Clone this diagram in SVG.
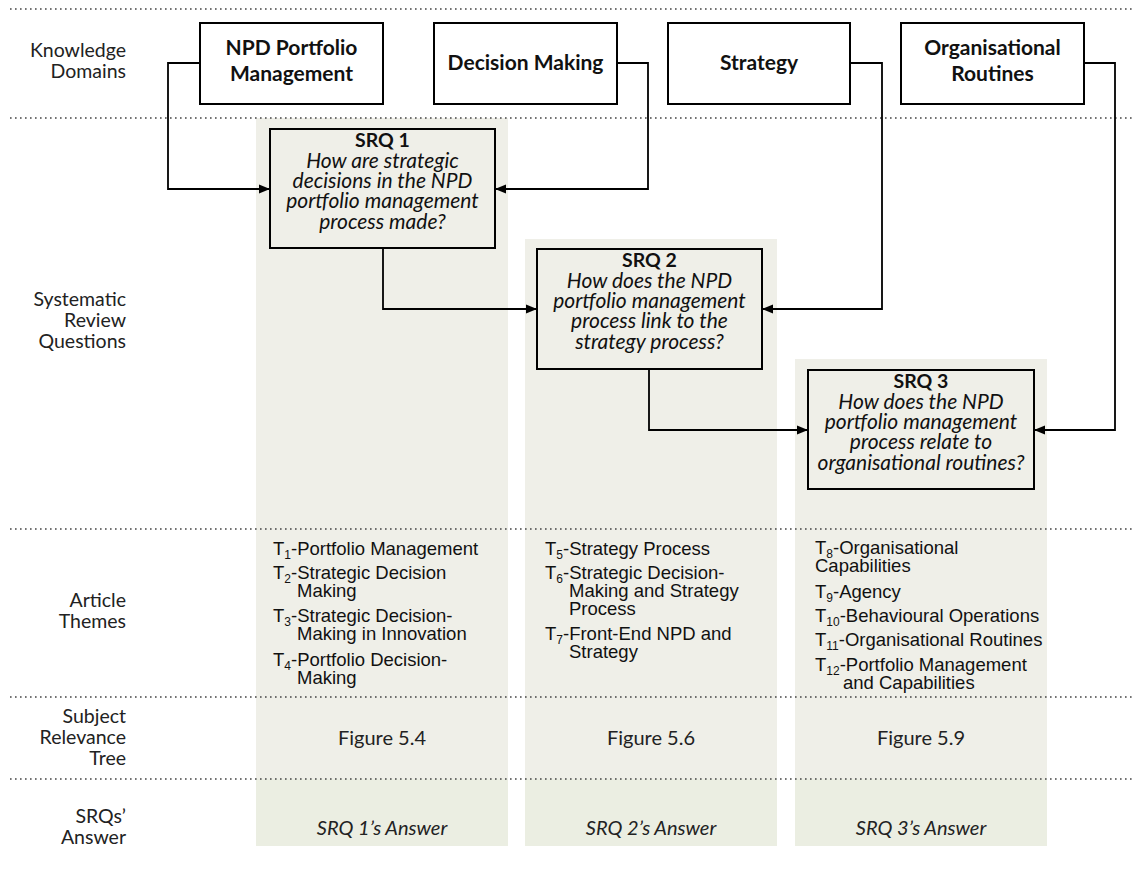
<svg xmlns="http://www.w3.org/2000/svg" width="1136" height="874" viewBox="0 0 1136 874">
  <style>
    .col { fill: #efefe8; }
    .ans { fill: #ebeee2; }
    .sep { stroke: #444; stroke-width: 1.6; stroke-dasharray: 1.6 3.4; fill: none; }
    .dom { fill: #fff; stroke: #000; stroke-width: 2; }
    .srq { fill: #efefe8; stroke: #000; stroke-width: 2; }
    .lbl { font-family: Lato, "Liberation Sans", sans-serif; font-size: 19.5px; fill: #222; text-anchor: end; }
    .domt { font-family: Lato, "Liberation Sans", sans-serif; font-size: 21px; font-weight: bold; fill: #111; text-anchor: middle; }
    .srqh { font-family: Lato, "Liberation Sans", sans-serif; font-size: 19.5px; font-weight: bold; fill: #111; text-anchor: middle; }
    .srqq { font-family: Lato, "Liberation Sans", sans-serif; font-size: 21px; font-style: italic; fill: #111; text-anchor: middle; }
    .thm { font-family: "Liberation Sans", Arial, sans-serif; font-size: 18.5px; fill: #111; }
    .sub { font-size: 12px; }
    .mid { font-family: Lato, "Liberation Sans", sans-serif; font-size: 20px; fill: #222; text-anchor: middle; }
    .midi { font-family: Lato, "Liberation Sans", sans-serif; font-size: 20px; font-style: italic; fill: #222; text-anchor: middle; }
    .conn { fill: none; stroke: #000; stroke-width: 1.8; marker-end: url(#arrow); }
  </style>
  <defs>
    <marker id="arrow" markerUnits="userSpaceOnUse" markerWidth="12" markerHeight="12" refX="11" refY="6" orient="auto">
      <path d="M0,1.5 L11,6 L0,10.5 z" fill="#000"/>
    </marker>
  </defs>

  <!-- column backgrounds -->
  <g id="columns">
    <rect class="col" x="256" y="118" width="252" height="661"/>
    <rect class="ans" x="256" y="779" width="252" height="67"/>
    <rect class="col" x="525" y="239" width="252" height="540"/>
    <rect class="ans" x="525" y="779" width="252" height="67"/>
    <rect class="col" x="795" y="359" width="252" height="420"/>
    <rect class="ans" x="795" y="779" width="252" height="67"/>
  </g>

  <!-- row separators -->
  <g id="separators">
    <line class="sep" x1="10" y1="9" x2="1132" y2="9"/>
    <line class="sep" x1="10" y1="118" x2="1132" y2="118"/>
    <line class="sep" x1="10" y1="529" x2="1132" y2="529"/>
    <line class="sep" x1="10" y1="697" x2="1132" y2="697"/>
    <line class="sep" x1="10" y1="779" x2="1132" y2="779"/>
  </g>

  <!-- row labels -->
  <g id="row-labels">
    <text class="lbl" x="126" y="57">Knowledge</text>
    <text class="lbl" x="126" y="78">Domains</text>
    <text class="lbl" x="126" y="306">Systematic</text>
    <text class="lbl" x="126" y="327">Review</text>
    <text class="lbl" x="126" y="348">Questions</text>
    <text class="lbl" x="126" y="607">Article</text>
    <text class="lbl" x="126" y="628">Themes</text>
    <text class="lbl" x="126" y="723">Subject</text>
    <text class="lbl" x="126" y="744">Relevance</text>
    <text class="lbl" x="126" y="765">Tree</text>
    <text class="lbl" x="126" y="823">SRQs’</text>
    <text class="lbl" x="126" y="844">Answer</text>
  </g>

  <!-- knowledge domains -->
  <g id="domain-npd">
    <rect class="dom" x="200" y="23" width="183" height="81"/>
    <text class="domt" x="291.5" y="55">NPD Portfolio</text>
    <text class="domt" x="291.5" y="81">Management</text>
  </g>
  <g id="domain-decision">
    <rect class="dom" x="434" y="23" width="183" height="81"/>
    <text class="domt" x="525.5" y="70">Decision Making</text>
  </g>
  <g id="domain-strategy">
    <rect class="dom" x="668" y="23" width="182" height="81"/>
    <text class="domt" x="759" y="70">Strategy</text>
  </g>
  <g id="domain-routines">
    <rect class="dom" x="901" y="23" width="183" height="81"/>
    <text class="domt" x="992.5" y="55">Organisational</text>
    <text class="domt" x="992.5" y="81">Routines</text>
  </g>

  <!-- systematic review questions -->
  <g id="srq1">
    <rect class="srq" x="270" y="129" width="225" height="119"/>
    <text class="srqh" x="382.5" y="147">SRQ 1</text>
    <text class="srqq" x="382.5" y="168">How are strategic</text>
    <text class="srqq" x="382.5" y="188">decisions in the NPD</text>
    <text class="srqq" x="382.5" y="208">portfolio management</text>
    <text class="srqq" x="382.5" y="229">process made?</text>
  </g>
  <g id="srq2">
    <rect class="srq" x="537" y="249" width="225" height="120"/>
    <text class="srqh" x="649.5" y="267">SRQ 2</text>
    <text class="srqq" x="649.5" y="288">How does the NPD</text>
    <text class="srqq" x="649.5" y="308">portfolio management</text>
    <text class="srqq" x="649.5" y="328">process link to the</text>
    <text class="srqq" x="649.5" y="349">strategy process?</text>
  </g>
  <g id="srq3">
    <rect class="srq" x="808" y="370" width="226" height="119"/>
    <text class="srqh" x="921" y="388">SRQ 3</text>
    <text class="srqq" x="921" y="409">How does the NPD</text>
    <text class="srqq" x="921" y="429">portfolio management</text>
    <text class="srqq" x="921" y="449">process relate to</text>
    <text class="srqq" x="921" y="470">organisational routines?</text>
  </g>

  <!-- article themes -->
  <g id="themes-srq1" class="thm">
    <text x="273" y="555">T<tspan class="sub" dy="4">1</tspan><tspan dy="-4">-Portfolio Management</tspan></text>
    <text x="273" y="579">T<tspan class="sub" dy="4">2</tspan><tspan dy="-4">-Strategic Decision</tspan></text>
    <text x="297" y="597">Making</text>
    <text x="273" y="622">T<tspan class="sub" dy="4">3</tspan><tspan dy="-4">-Strategic Decision-</tspan></text>
    <text x="297" y="640">Making in Innovation</text>
    <text x="273" y="666">T<tspan class="sub" dy="4">4</tspan><tspan dy="-4">-Portfolio Decision-</tspan></text>
    <text x="297" y="684">Making</text>
  </g>
  <g id="themes-srq2" class="thm">
    <text x="545" y="555">T<tspan class="sub" dy="4">5</tspan><tspan dy="-4">-Strategy Process</tspan></text>
    <text x="545" y="579">T<tspan class="sub" dy="4">6</tspan><tspan dy="-4">-Strategic Decision-</tspan></text>
    <text x="569" y="597">Making and Strategy</text>
    <text x="569" y="615">Process</text>
    <text x="545" y="640">T<tspan class="sub" dy="4">7</tspan><tspan dy="-4">-Front-End NPD and</tspan></text>
    <text x="569" y="658">Strategy</text>
  </g>
  <g id="themes-srq3" class="thm">
    <text x="815" y="554">T<tspan class="sub" dy="4">8</tspan><tspan dy="-4">-Organisational</tspan></text>
    <text x="815" y="572">Capabilities</text>
    <text x="815" y="598">T<tspan class="sub" dy="4">9</tspan><tspan dy="-4">-Agency</tspan></text>
    <text x="815" y="622">T<tspan class="sub" dy="4">10</tspan><tspan dy="-4">-Behavioural Operations</tspan></text>
    <text x="815" y="646">T<tspan class="sub" dy="4">11</tspan><tspan dy="-4">-Organisational Routines</tspan></text>
    <text x="815" y="671">T<tspan class="sub" dy="4">12</tspan><tspan dy="-4">-Portfolio Management</tspan></text>
    <text x="843" y="689">and Capabilities</text>
  </g>

  <!-- subject relevance trees -->
  <g id="trees">
    <text class="mid" x="382" y="745">Figure 5.4</text>
    <text class="mid" x="651" y="745">Figure 5.6</text>
    <text class="mid" x="921" y="745">Figure 5.9</text>
  </g>

  <!-- answers -->
  <g id="answers">
    <text class="midi" x="382" y="835">SRQ 1’s Answer</text>
    <text class="midi" x="651" y="835">SRQ 2’s Answer</text>
    <text class="midi" x="921" y="835">SRQ 3’s Answer</text>
  </g>

  <!-- connectors -->
  <g id="connectors">
    <path class="conn" d="M200,63 H168 V189 H270"/>
    <path class="conn" d="M617,63 H648 V189 H495"/>
    <path class="conn" d="M383,248 V309 H537"/>
    <path class="conn" d="M850,63 H882 V309 H762"/>
    <path class="conn" d="M649,369 V430 H808"/>
    <path class="conn" d="M1084,63 H1115 V430 H1034"/>
  </g>
</svg>
